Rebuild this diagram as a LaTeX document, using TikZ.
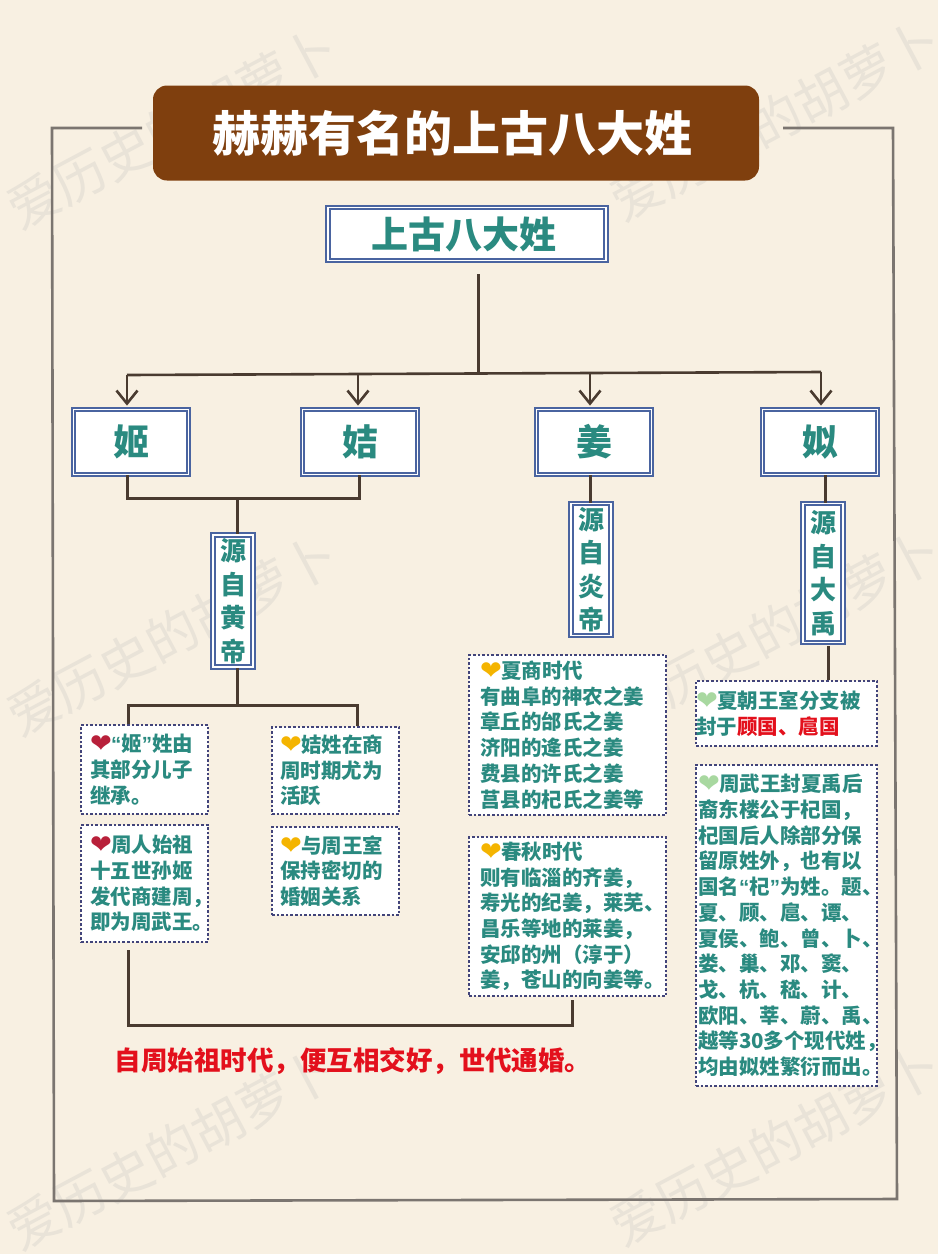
\documentclass[tikz,border=0pt]{standalone}
\usepackage{fontspec}
\usetikzlibrary{arrows.meta}
\setmainfont{Noto Sans CJK SC}
\newfontfamily\heartfont{DejaVu Sans}
\newfontfamily\quotefont{Liberation Sans}
\definecolor{paper}{HTML}{F8F0E2}
\definecolor{mark}{HTML}{E9E3D8}
\definecolor{frameline}{HTML}{7B7570}
\definecolor{titlebrown}{HTML}{7F3F0E}
\definecolor{wordteal}{HTML}{2A8A80}
\definecolor{boxblue}{HTML}{4A64A0}
\definecolor{dotblue}{HTML}{42447A}
\definecolor{stemline}{HTML}{4A3B30}
\definecolor{notered}{HTML}{E3101C}
\definecolor{heartred}{HTML}{B8203A}
\definecolor{heartyellow}{HTML}{F4B400}
\definecolor{heartgreen}{HTML}{A8D8A0}
\newcommand{\heartmark}[1]{\makebox[21pt][l]{\color{#1}\heartfont\fontsize{26}{25}\selectfont\raisebox{-1pt}{❤}}}
\newcommand{\qleft}{{\quotefont “}}
\newcommand{\qright}{{\quotefont ”}}

\begin{document}
\begin{tikzpicture}[x=1pt,y=-1pt,>={Straight Barb[length=13pt,width=21pt]}]
  \tikzstyle{wmark}=[text=mark,rotate=28,font=\fontsize{52}{52}\selectfont]
  \tikzstyle{titlebox}=[fill=titlebrown,rounded corners=14pt,text=white,minimum width=606pt,minimum height=95pt,font=\fontsize{48}{48}\selectfont\bfseries]
  \tikzstyle{namebox}=[draw=boxblue,double=white,double distance=1.6pt,line width=1.8pt,fill=white,text=wordteal,inner sep=0pt,font=\bfseries]
  \tikzstyle{bigword}=[namebox,minimum width=115pt,minimum height=65pt,font=\fontsize{36}{36}\selectfont\bfseries]
  \tikzstyle{srcword}=[namebox,minimum width=40pt,align=center,font=\fontsize{26}{33.5}\selectfont\bfseries]
  \tikzstyle{notebox}=[draw=dotblue,dash pattern=on 2.6pt off 2pt,line width=2.6pt,fill=white,text=wordteal,align=left,font=\fontsize{20.5}{25.7}\selectfont\bfseries]
  \tikzstyle{stem}=[draw=stemline,line width=3pt]
  \tikzstyle{busline}=[draw=stemline,line width=2.6pt]

  \path[use as bounding box,fill=paper] (0,0) rectangle (938,1254);

  \foreach \wx/\wy [count=\wi] in {172/128,775/120,172/635,775/630,172/1149,775/1145}
    \node[wmark] (wm\wi) at (\wx,\wy) {爱历史的胡萝卜};

  \coordinate (frametl) at (142,128);
  \coordinate (frameul) at (52,128);
  \coordinate (framell) at (54,1201);
  \coordinate (framelr) at (897,1199);
  \coordinate (frameur) at (893,128);
  \coordinate (frametr) at (783,128);
  \draw[frameline,line width=2.6pt] (frametl) -- (frameul) -- (framell) -- (framelr) -- (frameur) -- (frametr);

  \node[titlebox] (title) at (456,133) {\hspace*{-8pt}赫赫有名的上古八大姓};
  \node[namebox,minimum width=278pt,minimum height=53pt,font=\fontsize{37}{37}\selectfont\bfseries,node distance=101pt,xshift=11pt,below of=title] (top) {\hspace*{-7pt}上古八大姓};

  \node[bigword] (ji) at (131,442) {姬};
  \node[bigword,node distance=229pt,right of=ji] (gu) {姞};
  \node[bigword,node distance=234pt,right of=gu] (jiang) {姜};
  \node[bigword,node distance=226pt,right of=jiang] (si) {姒};

  \node[srcword,minimum height=132pt,node distance=159pt,xshift=102pt,below of=ji] (huang) {源\\自\\黄\\帝};
  \node[srcword,minimum height=132pt,node distance=127.5pt,xshift=-3pt,below of=jiang] (yan) {源\\自\\炎\\帝};
  \node[srcword,minimum height=139pt,node distance=131pt,xshift=3pt,below of=si] (yu) {源\\自\\大\\禹};

  \node[notebox,text width=109pt,inner xsep=9pt,minimum height=89pt,node distance=168.5pt,xshift=-88.5pt,below of=huang] (jione) {\heartmark{heartred}\qleft 姬\qright 姓由\\其部分儿子\\继承。};
  \node[notebox,text width=109pt,inner xsep=9pt,minimum height=117pt,node distance=114pt,below of=jione] (jitwo) {\heartmark{heartred}周人始祖\\十五世孙姬\\发代商建周，\\即为周武王。};
  \node[notebox,text width=111pt,inner xsep=8pt,minimum height=87pt,node distance=191pt,yshift=-1pt,right of=jione] (guone) {\heartmark{heartyellow}姞姓在商\\周时期尤为\\活跃};
  \node[notebox,text width=111pt,inner xsep=8pt,minimum height=88pt,node distance=100.5pt,below of=guone] (gutwo) {\heartmark{heartyellow}与周王室\\保持密切的\\婚姻关系};

  \node[notebox,text width=175pt,inner xsep=11pt,minimum height=160pt,node distance=165.5pt,xshift=-23.5pt,below of=yan] (jiangone) {\heartmark{heartyellow}夏商时代\\有曲阜的神农之姜\\章丘的邰氏之姜\\济阳的逄氏之姜\\费县的许氏之姜\\莒县的杞氏之姜等};
  \node[notebox,text width=175pt,inner xsep=11pt,minimum height=159pt,node distance=181.5pt,below of=jiangone] (jiangtwo) {\heartmark{heartyellow}春秋时代\\则有临淄的齐姜，\\寿光的纪姜，莱芜、\\昌乐等地的莱姜，\\安邱的州（淳于）\\姜，苍山的向姜等。};

  \node[notebox,text width=181pt,inner xsep=0pt,minimum height=65pt,node distance=140.5pt,xshift=-36.5pt,below of=yu] (sione) {\heartmark{heartgreen}夏朝王室分支被\\封于\textcolor{notered}{顾国、扈国}};
  \node[notebox,text width=177pt,inner xsep=2pt,minimum height=321pt,node distance=212pt,below of=sione] (sitwo) {\heartmark{heartgreen}周武王封夏禹后\\裔东楼公于杞国，\\杞国后人除部分保\\留原姓外，也有以\\国名\qleft 杞\qright 为姓。题、\\夏、顾、扈、谭、\\夏侯、鲍、曾、卜、\\娄、巢、邓、窦、\\戈、杭、嵇、计、\\欧阳、莘、蔚、禹、\\越等30多个现代姓，\\均由姒姓繁衍而出。};

  \node[text=notered,font=\fontsize{26.5}{26.5}\selectfont\bfseries] (marry) at (353,1061) {自周始祖时代，便互相交好，世代通婚。};

  \coordinate (busa) at (127,375);
  \coordinate (busb) at (358,374);
  \coordinate (busm) at (478,373);
  \coordinate (busc) at (590,373);
  \coordinate (busd) at (821,372);
  \coordinate (huanghub) at (237,498);
  \coordinate (huangfork) at (237,705);
  \coordinate (joinl) at (128,1025);
  \coordinate (joinr) at (572,1025);

  \draw[stem] ([xshift=11pt,yshift=-13pt]top.south) -- (busm);
  \draw[busline] (busa) -- (busd);
  \path[->] (busa) edge[busline] ([xshift=-4pt,yshift=3pt]ji.north)
        (busb) edge[busline] ([xshift=-2pt,yshift=3pt]gu.north)
        (busc) edge[busline] ([xshift=-4pt,yshift=3pt]jiang.north)
        (busd) edge[busline] ([xshift=1pt,yshift=3pt]si.north)
  ; %end path

  \draw[stem] ([xshift=-4pt]ji.south) |- (huanghub) -| ([xshift=-1pt]gu.south);
  \draw[stem] (huanghub) -- ([xshift=4pt]huang.north);
  \draw[stem] ([xshift=4pt]huang.south) -- (huangfork);
  \draw[stem] ([xshift=-16.5pt]jione.north) |- (huangfork) -| ([xshift=21.5pt]guone.north);
  \draw[stem] ([xshift=-4pt]jiang.south) -- ([xshift=-1pt]yan.north);
  \draw[stem] ([xshift=5pt]si.south) -- ([xshift=2pt]yu.north);
  \draw[stem] ([xshift=5pt,yshift=-3pt]yu.south) -- ([xshift=41.5pt]sione.north);
  \draw[stem] ([xshift=-16.5pt,yshift=-7pt]jitwo.south) -- (joinl) -- (joinr) -- ([xshift=4.5pt,yshift=-3pt]jiangtwo.south);
\end{tikzpicture}
\end{document}
